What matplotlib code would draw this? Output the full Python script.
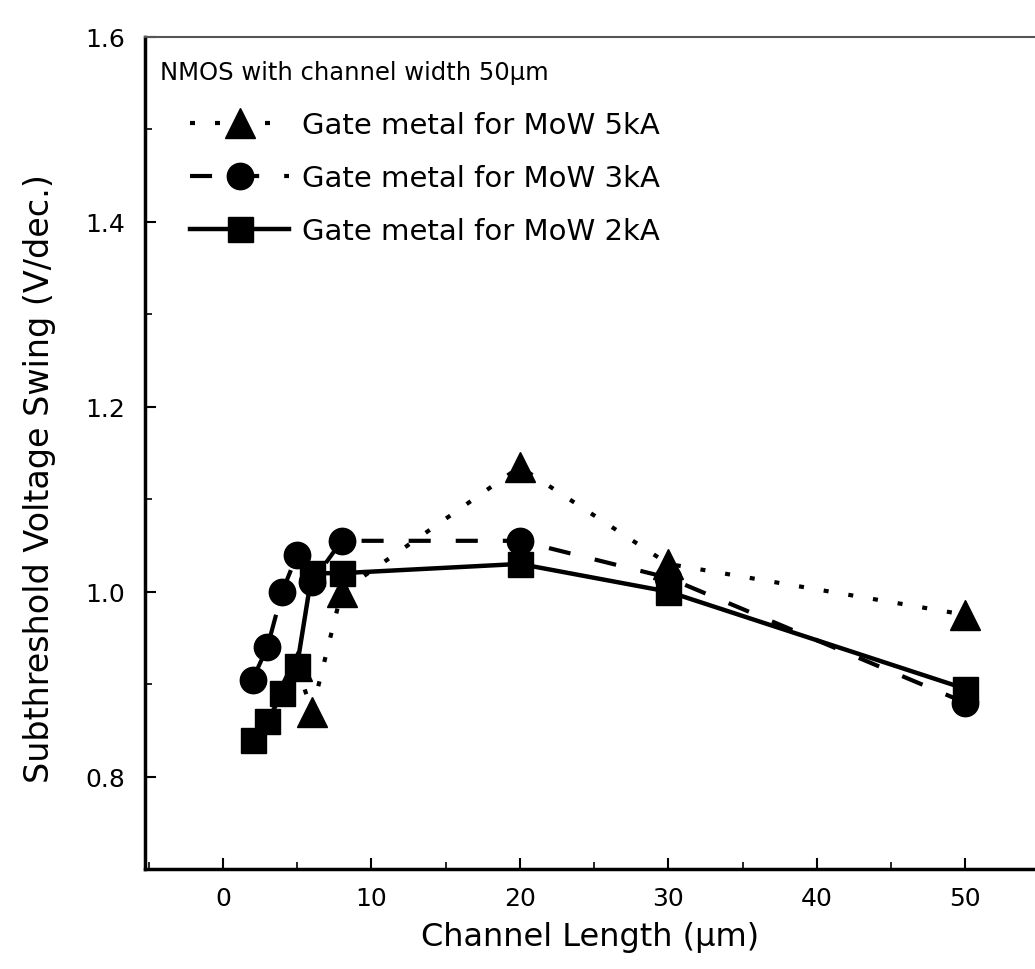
import matplotlib
matplotlib.use("Agg")
import matplotlib.pyplot as plt
from matplotlib.ticker import MultipleLocator, FormatStrFormatter

# values
len_5ka = [5, 6, 8, 20, 30, 50]
ss_5ka = [0.92, 0.87, 1.00, 1.135, 1.03, 0.975]

len_3ka = [2, 3, 4, 5, 6, 8, 20, 30, 50]
ss_3ka = [0.905, 0.94, 1.00, 1.04, 1.01, 1.055, 1.055, 1.015, 0.88]

len_2ka = [2, 3, 4, 5, 6, 8, 20, 30, 50]
ss_2ka = [0.84, 0.86, 0.89, 0.92, 1.02, 1.02, 1.03, 1.00, 0.895]

labels = ["Gate metal for MoW 5kA", "Gate metal for MoW 3kA", "Gate metal for MoW 2kA"]
legend_title = "NMOS with channel width 50\u03bcm"

plt.rcParams["font.family"] = ["DejaVu Sans"]

fig = plt.figure(figsize=(10.35, 9.7), dpi=100)
ax = fig.add_axes([0.140, 0.103, 0.860, 0.858])

l5, = ax.plot(len_5ka, ss_5ka, color="black", lw=3, linestyle=(0, (1.2, 4.8)),
              marker="^", markersize=21, zorder=3, label=labels[0])
l3, = ax.plot(len_3ka, ss_3ka, color="black", lw=3, linestyle=(0, (5.3, 6)),
              marker="o", markersize=19, zorder=4, label=labels[1])
l2, = ax.plot(len_2ka, ss_2ka, color="black", lw=3.2, linestyle="-",
              marker="s", markersize=18, zorder=5, label=labels[2])

ax.set_xlim(-5.25, 54.7)
ax.set_ylim(0.7, 1.6)

ax.xaxis.set_major_locator(MultipleLocator(10))
ax.xaxis.set_minor_locator(MultipleLocator(5))
ax.yaxis.set_major_locator(MultipleLocator(0.2))
ax.yaxis.set_minor_locator(MultipleLocator(0.1))
ax.yaxis.set_major_formatter(FormatStrFormatter("%.1f"))

ax.tick_params(axis="both", which="both", direction="in", colors="black")
ax.tick_params(axis="both", which="major", length=8, width=1.5, labelsize=18)
ax.tick_params(axis="both", which="minor", length=5, width=1.2)
ax.tick_params(axis="x", which="major", pad=12)
ax.tick_params(axis="y", which="major", pad=14)

ax.spines["right"].set_visible(False)
ax.spines["left"].set_linewidth(2.5)
ax.spines["bottom"].set_linewidth(2.5)
ax.spines["top"].set_linewidth(1.5)
ax.spines["top"].set_color("#555555")

ax.set_xlabel("Channel Length (\u03bcm)", fontsize=23)
ax.set_ylabel("Subthreshold Voltage Swing (V/dec.)", fontsize=24)
ax.xaxis.set_label_coords(0.5, -0.062)
ax.yaxis.set_label_coords(-0.1, 0.47)

# legend title sits left of the handles, so it is a plain text
ax.text(0.017, 0.958, legend_title, transform=ax.transAxes,
        fontsize=17.5, ha="left", va="center")
ax.legend(handles=[l5, l3, l2], loc="upper left",
          bbox_to_anchor=(0.0506, 0.911), frameon=False, fontsize=21,
          handlelength=3.4, handletextpad=0.45, labelspacing=0.86,
          borderpad=0, borderaxespad=0, numpoints=1)

fig.savefig("out.png", dpi=100)
